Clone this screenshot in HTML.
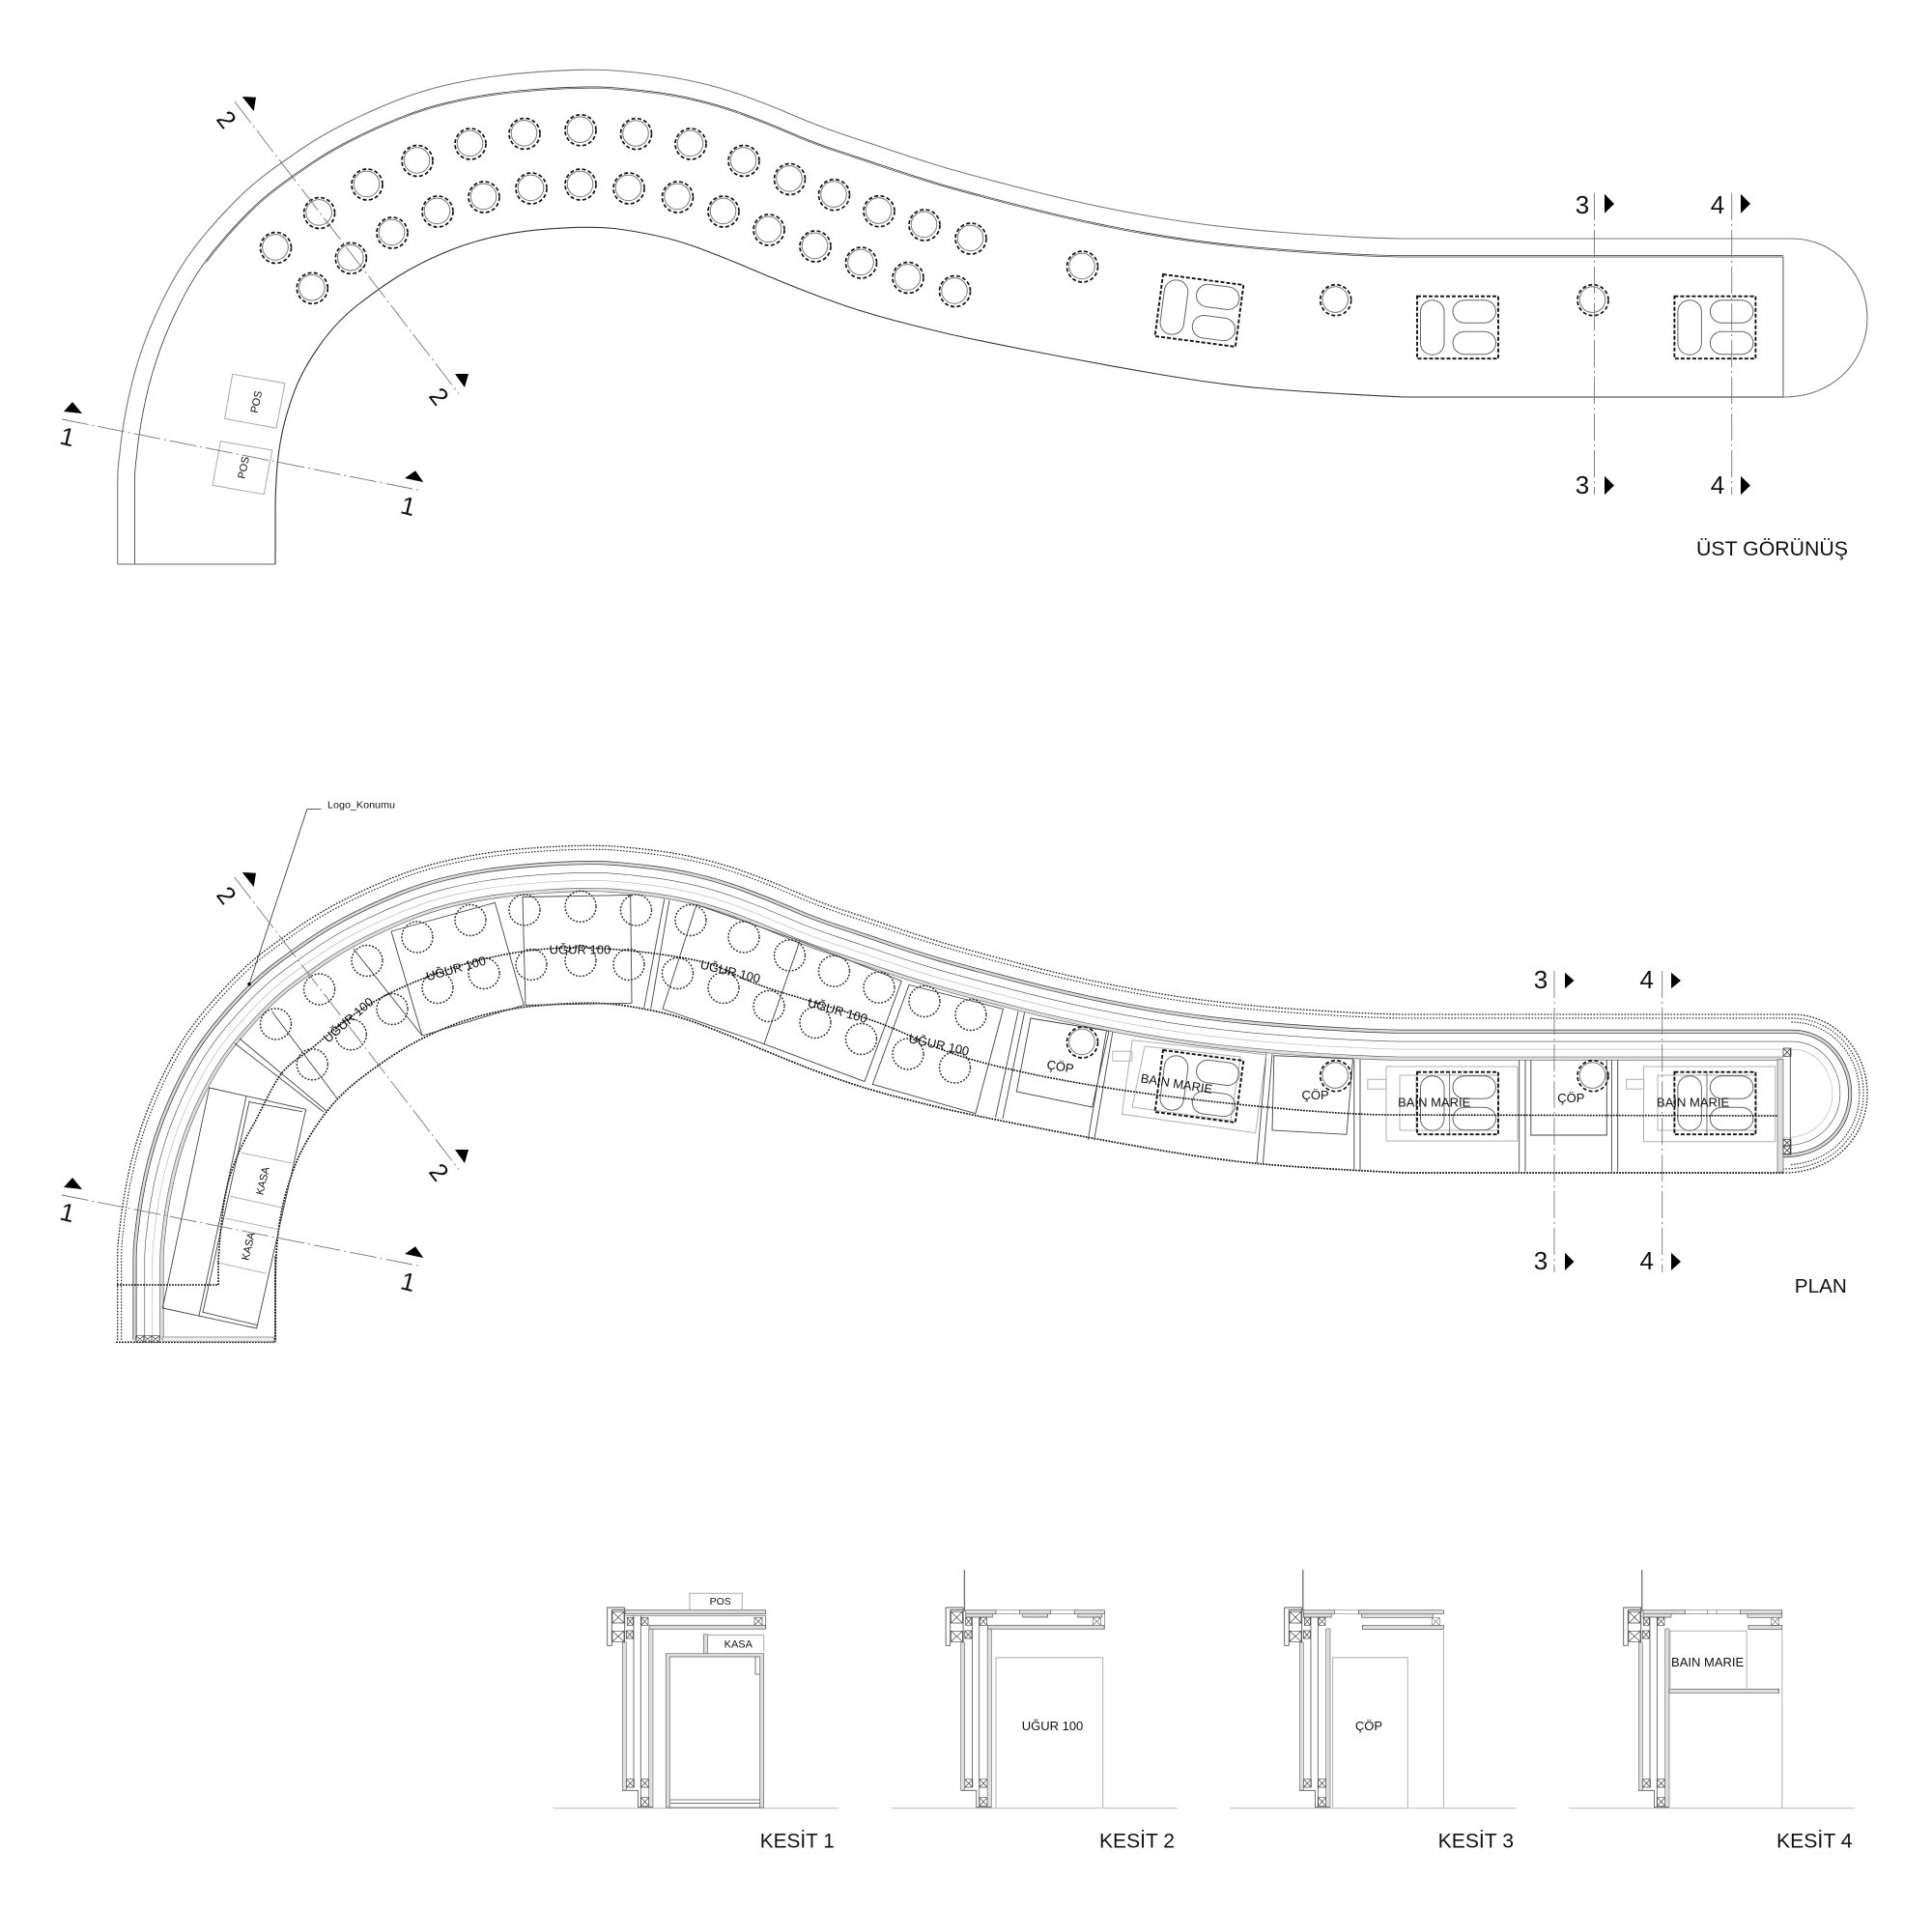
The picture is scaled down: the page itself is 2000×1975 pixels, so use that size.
<!DOCTYPE html>
<html><head><meta charset="utf-8"><style>
html,body{margin:0;padding:0;background:#fff}
svg{display:block}
text{font-family:"Liberation Sans",sans-serif;fill:#111}
.n{font-size:26px;text-anchor:middle}
.l{fill:none;stroke:#444;stroke-width:.9}
.g{fill:none;stroke:#b0b0b0;stroke-width:1}
.sec{fill:none;stroke:#777;stroke-width:.9;stroke-dasharray:28 4 2 4}
.u{font-size:13px;text-anchor:middle}
</style></head><body>
<svg width="2000" height="1975" viewBox="0 0 2000 1975" xmlns="http://www.w3.org/2000/svg">
<defs>
<path id="top" fill="none" d="M121.7 584L121.7 500Q121.7 485 123.85 470Q126 447 131.35 420Q136.7 393 144.85 368Q153 343 164.85 318Q176.7 293 188.35 274.85Q200 256.7 215 239.2Q230 221.7 245 206.7Q260 191.7 275.85 179.85Q291.7 168 312.35 154Q333 140 358 127.5Q383 115 408 105Q433 95 458 89Q483 83 508 79.5Q533 76 558 74.35Q583 72.7 601.5 72.35Q620 72 635 73Q650 74 675 77Q700 80 725 85.85Q750 91.7 775 100.85Q800 110 825 120.85Q850 131.7 875 139.85Q900 148 925 156.5Q950 165 975 172.5Q1000 180 1064 196.5Q1128 213 1191.5 224Q1255 235 1327.5 240.5Q1400 246 1450 247L1855 247C1900 247 1933 285 1933 329C1933 372 1900 411 1846 411"/>
<path id="bot" fill="none" d="M1846 411L1453 411Q1350 406 1302.5 401.5Q1255 397 1191.5 386Q1128 375 1064 362.5Q1000 350 975 344Q950 338 925 331.5Q900 325 875 316.5Q850 308 825 298Q800 288 775 277.35Q750 266.7 725 257.35Q700 248 675 243Q650 238 635 236.5Q620 235 601.5 235.35Q583 235.7 558 237.85Q533 240 508 245.85Q483 251.7 458 262.35Q433 273 413 285.5Q393 298 370.5 315.5Q348 333 330.5 358Q313 383 304.85 404.85Q296.7 426.7 292.35 446.7Q288 466.7 286.5 488.35Q285 510 285 530L285 584"/>
<clipPath id="shape"><path d="M121.7 584L121.7 500Q121.7 485 123.85 470Q126 447 131.35 420Q136.7 393 144.85 368Q153 343 164.85 318Q176.7 293 188.35 274.85Q200 256.7 215 239.2Q230 221.7 245 206.7Q260 191.7 275.85 179.85Q291.7 168 312.35 154Q333 140 358 127.5Q383 115 408 105Q433 95 458 89Q483 83 508 79.5Q533 76 558 74.35Q583 72.7 601.5 72.35Q620 72 635 73Q650 74 675 77Q700 80 725 85.85Q750 91.7 775 100.85Q800 110 825 120.85Q850 131.7 875 139.85Q900 148 925 156.5Q950 165 975 172.5Q1000 180 1064 196.5Q1128 213 1191.5 224Q1255 235 1327.5 240.5Q1400 246 1450 247L1855 247C1900 247 1933 285 1933 329C1933 372 1900 411 1846 411L1453 411Q1350 406 1302.5 401.5Q1255 397 1191.5 386Q1128 375 1064 362.5Q1000 350 975 344Q950 338 925 331.5Q900 325 875 316.5Q850 308 825 298Q800 288 775 277.35Q750 266.7 725 257.35Q700 248 675 243Q650 238 635 236.5Q620 235 601.5 235.35Q583 235.7 558 237.85Q533 240 508 245.85Q483 251.7 458 262.35Q433 273 413 285.5Q393 298 370.5 315.5Q348 333 330.5 358Q313 383 304.85 404.85Q296.7 426.7 292.35 446.7Q288 466.7 286.5 488.35Q285 510 285 530L285 584Z"/></clipPath>
<clipPath id="lft"><rect x="0" y="0" width="1846" height="700"/></clipPath>
<clipPath id="rgt"><rect x="1853" y="0" width="200" height="700"/></clipPath>
<clipPath id="dbl"><rect x="214" y="0" width="1632" height="700"/></clipPath>
<g id="cc" fill="none"><circle r="16" stroke="#111" stroke-width="1.7" stroke-dasharray="4 2.4"/><circle cx="-.5" cy="-.6" r="13.3" stroke="#777" stroke-width="1"/></g>
<circle id="cd" r="16" fill="none" stroke="#222" stroke-width="1.4" stroke-dasharray="1.9 1.6"/>
<g id="bm" fill="none">
<rect x="3.5" y="4" width="24.5" height="56.5" rx="12" stroke="#666" stroke-width="1"/>
<rect x="37" y="4" width="44.5" height="23.5" rx="12" stroke="#666" stroke-width="1"/>
<rect x="37" y="36.5" width="44.5" height="23.5" rx="12" stroke="#666" stroke-width="1"/>
<rect x="0" y="0" width="84" height="64.5" stroke="#111" stroke-width="1.9" stroke-dasharray="4 2"/>
</g>
<g id="kb">
<path d="M646.7 1664H628.7V1703.3H633.3V1666.5H646.7M646.7 1664V1702" fill="none" stroke="#555" stroke-width=".9"/>
<path d="M634 1668.3h12v11.7h-12zl12 11.7m-12 0l12-11.7M634 1688.3h12v11h-12zl12 11m-12 0l12-11M649.3 1674.3h6v8h-6zl6 8m-6 0l6-8M648.4 1688h7v8h-7zl7 8m-7 0l7-8M664 1674.3h7v8h-7zl7 8m-7 0l7-8M648.4 1841.7h8v8.3h-8zl8 8.3m-8 0l8-8.3M663.6 1841.7h8v8.3h-8zl8 8.3m-8 0l8-8.3M663.6 1860.7h8v8.6h-8zl8 8.6m-8 0l8-8.6" fill="none" stroke="#444" stroke-width=".7"/>
<rect x="644.3" y="1700" width="4" height="153.3" fill="#ddd" stroke="#666" stroke-width=".6"/>
<rect x="671.7" y="1686" width="4.3" height="184.7" fill="#ddd" stroke="#666" stroke-width=".6"/>
<path d="M656 1672V1850M663.3 1672V1870.7M644.3 1853.3H660.4V1870.7H676" fill="none" stroke="#555" stroke-width=".8"/>
</g>
</defs>
<rect width="2000" height="1975" fill="#fff"/>

<!-- TOP VIEW -->
<g clip-path="url(#shape)">
 <g clip-path="url(#dbl)"><use href="#top" stroke="#444" stroke-width="38.8"/><use href="#top" stroke="#fff" stroke-width="37.4"/></g>
 <g clip-path="url(#lft)"><use href="#top" stroke="#333" stroke-width="36.2"/><use href="#top" stroke="#fff" stroke-width="34.6"/></g>
</g>
<use href="#top" stroke="#777" stroke-width="1.1"/>
<use href="#bot" stroke="#333" stroke-width="1.1"/>
<path d="M121.7 584H285M1846 266V411" fill="none" stroke="#666" stroke-width="1.1"/>
<use href="#cc" x="285.5" y="256.5"/><use href="#cc" x="330.6" y="220.5"/><use href="#cc" x="380" y="191"/><use href="#cc" x="432" y="166.5"/><use href="#cc" x="487" y="149"/><use href="#cc" x="543" y="138.4"/><use href="#cc" x="601" y="134.8"/><use href="#cc" x="658.5" y="138.6"/><use href="#cc" x="715" y="149"/><use href="#cc" x="770" y="166.5"/><use href="#cc" x="817.5" y="185.5"/><use href="#cc" x="863.5" y="201.7"/><use href="#cc" x="910" y="218.7"/><use href="#cc" x="957" y="233"/><use href="#cc" x="1005" y="247"/>
<use href="#cc" x="323.3" y="298.3"/><use href="#cc" x="363.3" y="267.3"/><use href="#cc" x="406" y="241"/><use href="#cc" x="453" y="219"/><use href="#cc" x="501" y="204"/><use href="#cc" x="550" y="195"/><use href="#cc" x="601" y="191"/><use href="#cc" x="651" y="195"/><use href="#cc" x="701.5" y="204"/><use href="#cc" x="749" y="219"/><use href="#cc" x="796" y="238"/><use href="#cc" x="844" y="255"/><use href="#cc" x="891.5" y="272"/><use href="#cc" x="940" y="287.5"/><use href="#cc" x="988.5" y="301.5"/>
<use href="#cc" x="1120.5" y="276"/><use href="#cc" x="1382.7" y="310.7"/><use href="#cc" x="1649" y="310.7"/>
<use href="#bm" transform="translate(1204 284) rotate(7.5)"/>
<use href="#bm" transform="translate(1467 306.7)"/>
<use href="#bm" transform="translate(1733.4 306.7)"/>
<path d="M240.7 387.3L295 396.7L286 443.3L232.7 433.3ZM228.3 456.7L281.7 466L273.3 511.7L220 502.3Z" fill="none" stroke="#aaa" stroke-width="1"/>
<text transform="translate(265 416) rotate(-78)" y="4" font-size="11" text-anchor="middle">POS</text>
<text transform="translate(251.7 484) rotate(-78)" y="4" font-size="11" text-anchor="middle">POS</text>
<!-- section marks top -->
<path class="sec" d="M64 434L437 508M242.7 105L475 407.7M1650.5 200V512M1792.7 200V512"/>
<path d="M66 426L75 416L85 428ZM419 495L430 487.3L438.3 499ZM250.7 100L265 100.7L262.7 115ZM471 387L485 387L481 401ZM1661 200.7L1671 211L1661 220.7ZM1661 492.7L1671 502.5L1661 512.3ZM1802 200.7L1812 211L1802 220.7ZM1802 492.7L1812 502.5L1802 512.3Z" fill="#000"/>
<text class="n" transform="translate(70 451.5) rotate(14)" y="9.5">1</text>
<text class="n" transform="translate(422.7 523.3) rotate(14)" y="9.5">1</text>
<text class="n" transform="translate(235 123.3) rotate(52)" y="9.5">2</text>
<text class="n" transform="translate(455 410) rotate(52)" y="9.5">2</text>
<text class="n" x="1638" y="221">3</text><text class="n" x="1638" y="511">3</text>
<text class="n" x="1778" y="221">4</text><text class="n" x="1778" y="511">4</text>
<text x="1756" y="575" font-size="21" textLength="157" lengthAdjust="spacingAndGlyphs">ÜST GÖRÜNÜŞ</text>

<!-- PLAN -->
<g transform="translate(0 803)">
 <g clip-path="url(#shape)">
  <g clip-path="url(#lft)"><use href="#top" stroke="#555" stroke-width="95.6"/><use href="#top" stroke="#ddd" stroke-width="94.4"/><use href="#top" stroke="#555" stroke-width="88.6"/><use href="#top" stroke="#fff" stroke-width="87.4"/></g>
  <use href="#top" stroke="#bbb" stroke-width="73"/><use href="#top" stroke="#fff" stroke-width="71.6"/>
  <use href="#top" stroke="#444" stroke-width="56.8"/><use href="#top" stroke="#fff" stroke-width="55.6"/>
  <use href="#top" stroke="#333" stroke-width="39.6"/><use href="#top" stroke="#d8d8d8" stroke-width="38.2"/><use href="#top" stroke="#333" stroke-width="33"/><use href="#top" stroke="#fff" stroke-width="31.6"/>
  <g clip-path="url(#rgt)"><use href="#top" stroke="#222" stroke-width="17.3" stroke-dasharray="1.6 1.6"/><use href="#top" stroke="#fff" stroke-width="15"/></g>
  <use href="#top" stroke="#222" stroke-width="9" stroke-dasharray="1.6 1.6"/><use href="#top" stroke="#fff" stroke-width="6.8"/>
 </g>
 <use href="#top" stroke="#222" stroke-width="1.3" stroke-dasharray="1.6 1.6"/>
 <use href="#bot" stroke="#111" stroke-width="1.7" stroke-dasharray="1.8 1.2"/>
 <g transform="translate(0 .5)">
 <use href="#cd" x="285.5" y="256.5"/><use href="#cd" x="330.6" y="220.5"/><use href="#cd" x="380" y="191"/><use href="#cd" x="432" y="166.5"/><use href="#cd" x="487" y="149"/><use href="#cd" x="543" y="138.4"/><use href="#cd" x="601" y="134.8"/><use href="#cd" x="658.5" y="138.6"/><use href="#cd" x="715" y="149"/><use href="#cd" x="770" y="166.5"/><use href="#cd" x="817.5" y="185.5"/><use href="#cd" x="863.5" y="201.7"/><use href="#cd" x="910" y="218.7"/><use href="#cd" x="957" y="233"/><use href="#cd" x="1005" y="247"/>
 <use href="#cd" x="323.3" y="298.3"/><use href="#cd" x="363.3" y="267.3"/><use href="#cd" x="406" y="241"/><use href="#cd" x="453" y="219"/><use href="#cd" x="501" y="204"/><use href="#cd" x="550" y="195"/><use href="#cd" x="601" y="191"/><use href="#cd" x="651" y="195"/><use href="#cd" x="701.5" y="204"/><use href="#cd" x="749" y="219"/><use href="#cd" x="796" y="238"/><use href="#cd" x="844" y="255"/><use href="#cd" x="891.5" y="272"/><use href="#cd" x="940" y="287.5"/><use href="#cd" x="988.5" y="301.5"/>
 </g>
 <use href="#cc" x="1120.5" y="276"/><use href="#cc" x="1382.7" y="310.7"/><use href="#cc" x="1649" y="310.7"/>
</g>
<!-- compartments -->
<path class="l" d="M243 1080L335 1151M248 1075L338 1150M281.5 1047L349.7 1138M365.7 981.9L437 1072M405 964L512.4 934.4L542.3 1040.4L437 1072ZM541 928.5L652.7 926.5L654 1038.4L544 1040.4ZM687.8 930.5L666.7 1043.2M692.9 931.7L673.7 1044.4M721 936.4L828 974L791 1080.7L686 1044.4ZM828 974L933.3 1015.5L895 1119.5L791 1080.7M941 1019.5L1038.5 1044.4L1009.8 1152.7L903.3 1122.3ZM1054 1046.7L1030.6 1156.7M1060.6 1048L1038 1158M1067 1054L1148 1067.3L1130.7 1146L1052.3 1130ZM1145.4 1067.3L1126.3 1180M1151.8 1068.3L1132.7 1180M1311 1090L1301 1204M1317 1091L1307.4 1204M1318.9 1092.7L1400.5 1096L1394 1174.3L1317 1170ZM1401.8 1096.7V1211.7M1408 1096.7V1211.7M1572.7 1097.3V1212.7M1579 1097.3V1212.7M1584.8 1097V1175H1663.3V1097M1668.4 1097V1212.7M1674.7 1097V1212.7"/>
<path class="g" d="M1172.2 1076.7L1310.6 1091.7L1299.7 1172.7L1161.4 1153.3ZM1185 1083L1284 1094L1274 1160L1172 1146ZM1151.8 1088.3h20v10h-20zM1435 1104H1570.8V1181H1435ZM1449 1113H1551V1170H1449ZM1415.8 1117.3h19v10h-19zM1701.5 1104H1837.7V1181.7H1701.5ZM1716 1113H1818V1170H1716ZM1683.7 1117.3h18v10h-18z"/>
<path class="g" d="M1449 1113h17v57h-17zM1716 1113h17v57h-17z"/>
<!-- bain marie pills plan -->
<use href="#bm" transform="translate(1204 1087) rotate(7.5)"/>
<use href="#bm" transform="translate(1467 1109.7)"/>
<use href="#bm" transform="translate(1733.4 1109.7)"/>
<path d="M1500.7 1110V1174M1767 1110V1174" stroke="#555" stroke-width=".8" fill="none"/>
<rect x="1840" y="1096.7" width="6" height="116.5" fill="#ddd" stroke="#666" stroke-width=".7"/>
<path d="M1853.3 1085V1195M1846 1085h8v8.3h-8zl8 8.3m-8 0l8-8.3M1846 1179.3h8v7.4h-8zl8 7.4m-8 0l8-7.4M1846 1186.7h8v8.3h-8zl8 8.3m-8 0l8-8.3" fill="none" stroke="#444" stroke-width=".8"/>
<!-- kasa -->
<path class="l" d="M216.7 1126L316.7 1148.3L265.7 1375L168.3 1354ZM255 1135L206 1361.7M258.3 1139.3L210 1358.3L266.7 1371.7M258.3 1140.7L313 1150.7"/>
<path class="g" d="M250 1193.3L302.3 1204M238.3 1238.3L292.3 1250M233.3 1261L288.3 1272.7M226.7 1307.3L276 1318.3"/>
<path d="M120 1389.3H285V1300M121 1330H226V1306.7" fill="none" stroke="#111" stroke-width="1.6" stroke-dasharray="1.8 1.2"/>
<path d="M140.7 1382.7h24.3v6.6h-24.3zM148.8 1382.7v6.6M156.9 1382.7v6.6M140.7 1382.7l8.1 6.6m-8.1 0l8.1-6.6M148.8 1382.7l8.1 6.6m-8.1 0l8.1-6.6M156.9 1382.7l8.1 6.6m-8.1 0l8.1-6.6" fill="none" stroke="#444" stroke-width=".7"/>
<rect x="168.3" y="1384" width="115" height="4.7" fill="#eee" stroke="#888" stroke-width=".8"/>
<!-- spine dotted -->
<path d="M226 1306.7C227 1290 228 1275 230 1260C232 1240 236 1222 241.7 1206.7C247 1192 254 1178 263 1163C272 1146 280 1128 290 1113C298 1102 308 1096 318 1089C340.3 1070.5 364.3 1048.8 394 1033C423.7 1017.2 462 1002.7 496 994C530 985.3 560.7 981 598 981C635.3 981 688 987.3 720 994C752 1000.7 759.2 1010.5 790 1021C820.8 1031.5 870 1044.7 905 1057C940 1069.3 962.8 1084 1000 1095C1037.2 1106 1081.2 1115 1128 1123C1174.8 1131 1230 1137.8 1281 1143C1332 1148.2 1383 1153 1434 1154L1840 1155" fill="none" stroke="#111" stroke-width="1.6" stroke-dasharray="1.8 1.2"/>
<!-- plan labels -->
<g>
<text class="u" transform="translate(360.6 1055.8) rotate(-41)" y="4.5">UĞUR 100</text>
<text class="u" transform="translate(472 1002.5) rotate(-15.6)" y="4.5">UĞUR 100</text>
<text class="u" x="600.4" y="987.5">UĞUR 100</text>
<text class="u" transform="translate(756 1005.6) rotate(14)" y="4.5">UĞUR 100</text>
<text class="u" transform="translate(867 1046) rotate(16)" y="4.5">UĞUR 100</text>
<text class="u" transform="translate(972 1081.5) rotate(12.5)" y="4.5">UĞUR 100</text>
<text class="u" transform="translate(1097.6 1104) rotate(10)" y="4.5">ÇÖP</text>
<text class="u" x="1361.6" y="1138">ÇÖP</text>
<text class="u" x="1626.3" y="1141">ÇÖP</text>
<text class="u" transform="translate(1218 1121.7) rotate(9)" y="4.5">BAIN MARIE</text>
<text class="u" x="1484.7" y="1145.5">BAIN MARIE</text>
<text class="u" x="1752.6" y="1145.5">BAIN MARIE</text>
<text font-size="11" text-anchor="middle" transform="translate(271.7 1222.3) rotate(-77)" y="4">KASA</text>
<text font-size="11" text-anchor="middle" transform="translate(256.7 1290) rotate(-77)" y="4">KASA</text>
</g>
<path d="M332.5 837.6H317.9L258 1018.7" fill="none" stroke="#444" stroke-width=".9"/><circle cx="258" cy="1018.7" r="1.8" fill="#000"/>
<text x="339" y="836.5" font-size="10" textLength="70" lengthAdjust="spacingAndGlyphs">Logo_Konumu</text>
<path class="sec" d="M64 1237L437 1311M242.7 908L475 1210.7M1609 1005V1317M1720.7 1005V1317"/>
<path d="M66 1229L75 1219L85 1231ZM419 1298L430 1290.3L438.3 1302ZM250.7 903L265 903.7L262.7 918ZM471 1190L485 1190L481 1204ZM1620 1006.7L1629.5 1015L1620 1023.3ZM1620 1296.7L1629.5 1306L1620 1315ZM1730 1006.7L1740 1015L1730 1023.3ZM1730 1296.7L1740 1306L1730 1315Z" fill="#000"/>
<text class="n" transform="translate(70 1254.5) rotate(14)" y="9.5">1</text>
<text class="n" transform="translate(422.7 1326.3) rotate(14)" y="9.5">1</text>
<text class="n" transform="translate(235 926.3) rotate(52)" y="9.5">2</text>
<text class="n" transform="translate(455 1213) rotate(52)" y="9.5">2</text>
<text class="n" x="1595" y="1023">3</text><text class="n" x="1595" y="1314">3</text>
<text class="n" x="1704.7" y="1023">4</text><text class="n" x="1704.7" y="1314">4</text>
<text x="1857.8" y="1338" font-size="20" textLength="54" lengthAdjust="spacingAndGlyphs">PLAN</text>

<!-- KESIT 1 -->
<path d="M572.5 1871.7H868M922.5 1871.7H1218.5M1273.4 1871.7H1569.4M1623.8 1871.7H1919.8" stroke="#bbb" stroke-width="1" fill="none"/>
<use href="#kb"/>
<rect x="647" y="1666.7" width="145.7" height="4" fill="#ddd" stroke="#555" stroke-width=".7"/>
<rect x="672" y="1682.3" width="120.7" height="3.9" fill="#ddd" stroke="#555" stroke-width=".7"/>
<path d="M648 1672.3H792.7V1686M781 1674.3h8v8h-8zl8 8m-8 0l8-8" fill="none" stroke="#555" stroke-width=".7"/>
<path d="M714 1666.7V1649.3H768.3V1666.7M728.3 1710V1692.5H790.7V1710" fill="none" stroke="#aaa" stroke-width="1"/>
<rect x="728.3" y="1691.7" width="4.4" height="20" fill="#ddd" stroke="#666" stroke-width=".6"/>
<path d="M694 1863H786.7M694 1866.7H786.7M782 1715V1733H786.7" fill="none" stroke="#555" stroke-width=".8"/>
<path d="M689.3 1871V1711.7H790.7V1871H786.7V1715H693.3V1871Z" fill="#ddd" stroke="#666" stroke-width=".7"/>
<path d="M693.3 1871H786.7" fill="none" stroke="#555" stroke-width=".7"/>
<text x="745.7" y="1661.2" font-size="10.5" text-anchor="middle">POS</text>
<text x="764.3" y="1705.6" font-size="11" text-anchor="middle">KASA</text>
<text x="786.8" y="1912.7" font-size="21" textLength="77" lengthAdjust="spacingAndGlyphs">KESİT 1</text>

<!-- KESIT 2 -->
<use href="#kb" transform="translate(350.4 0)"/>
<path d="M998.4 1625V1668" stroke="#777" stroke-width="1.4" fill="none"/>
<path d="M999.7 1666.7h31.3v4h-31.3zM1055.5 1666.7h32.2v4h-32.2zM1112.2 1666.7h31.3v4h-31.3zM999.7 1670.7h27.7v3.3h-27.7zM1058.7 1670.7h25.8v3.3h-25.8zM1115.8 1670.7h24.6v3.3h-24.6z" fill="#ddd" stroke="#555" stroke-width=".7"/>
<rect x="1022.4" y="1682.3" width="120.7" height="3.9" fill="#ddd" stroke="#555" stroke-width=".7"/>
<path d="M1031 1666.7H1112M1031 1670.7H1112M1143.5 1666.7V1686.7M1131.4 1674.3h8v8h-8zl8 8m-8 0l8-8" fill="none" stroke="#777" stroke-width=".7"/>
<path d="M1031 1871V1715.7H1141.7V1871" fill="none" stroke="#b0b0b0" stroke-width="1"/>
<text class="u" x="1089.5" y="1791">UĞUR 100</text>
<text x="1138" y="1912.7" font-size="21" textLength="78" lengthAdjust="spacingAndGlyphs">KESİT 2</text>

<!-- KESIT 3 -->
<use href="#kb" transform="translate(701 0)"/>
<path d="M1348.8 1625V1668" stroke="#777" stroke-width="1.4" fill="none"/>
<path d="M1349.3 1666.7h32.1v4h-32.1zM1406.4 1666.7h88v4h-88zM1349.3 1670.7h29v3.3h-29zM1409.6 1670.7h73.6v3.6h-73.6zM1410.4 1682.3h84v4.4h-84z" fill="#ddd" stroke="#555" stroke-width=".7"/>
<path d="M1381 1666.7H1406M1381 1670.7H1406M1482.3 1674.3h8v8.4h-8zl8 8.4m-8 0l8-8.4" fill="none" stroke="#888" stroke-width=".7"/>
<path d="M1494.4 1686V1872" fill="none" stroke="#b0b0b0" stroke-width="1"/>
<path d="M1379.6 1871V1715.7H1457.3V1871" fill="none" stroke="#b0b0b0" stroke-width="1"/>
<text class="u" x="1417" y="1791">ÇÖP</text>
<text x="1488.6" y="1912.7" font-size="21" textLength="78.4" lengthAdjust="spacingAndGlyphs">KESİT 3</text>

<!-- KESIT 4 -->
<use href="#kb" transform="translate(1052 0)"/>
<path d="M1699.7 1625V1668" stroke="#777" stroke-width="1.4" fill="none"/>
<path d="M1701 1666.7h43.4v4h-43.4zM1801.5 1666.7h43.3v4h-43.3zM1701 1670.7h29v3.3h-29zM1809 1670.7h35.8v3.6h-35.8zM1810 1682.3h34.8v4.4h-34.8zM1727.9 1748.3h113.8v4h-113.8z" fill="#ddd" stroke="#555" stroke-width=".7"/>
<path d="M1744 1666.7H1801M1744 1670.7H1801M1767.6 1666.7h9.4v4h-9.4zM1833.7 1674.3h8v8.4h-8zl8 8.4m-8 0l8-8.4" fill="none" stroke="#777" stroke-width=".7"/>
<path d="M1728.8 1748.3V1688.3H1808.2V1748.3M1844.8 1686.7V1872" fill="none" stroke="#b0b0b0" stroke-width="1"/>
<text class="u" x="1767.6" y="1725">BAIN MARIE</text>
<text x="1839" y="1912.7" font-size="21" textLength="78.6" lengthAdjust="spacingAndGlyphs">KESİT 4</text>
</svg>
</body></html>
